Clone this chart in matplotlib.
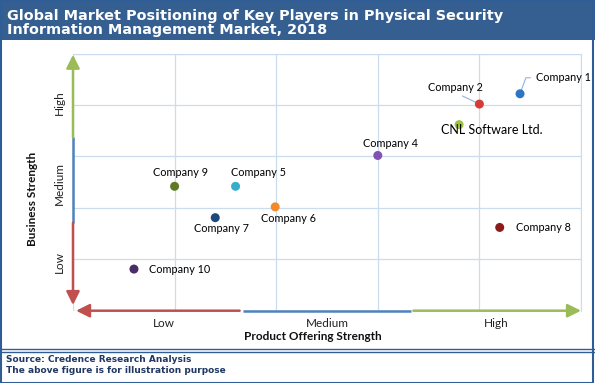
import matplotlib
matplotlib.use("Agg")
from matplotlib import pyplot as plt
from matplotlib.patches import Rectangle
from matplotlib.lines import Line2D

# donnees (echelle 0-5 sur chaque axe)
companies = ["Company 1", "Company 2", "CNL Software Ltd.", "Company 4", "Company 9",
             "Company 5", "Company 6", "Company 7", "Company 8", "Company 10"]
product_strength = [4.40, 4.00, 3.80, 3.00, 1.00, 1.60, 1.99, 1.40, 4.20, 0.60]
business_strength = [4.22, 4.02, 3.62, 3.02, 2.42, 2.42, 2.02, 1.81, 1.62, 0.81]
colors = ["#2E75C4", "#D63B36", "#9DC33F", "#7F52B3", "#5E7A24",
          "#36AECB", "#F28A2C", "#1F497D", "#8C1C1C", "#4A2D66"]
# decalage des etiquettes en pixels et alignement
label_dx = [16, -24, -18, 13, 6, 23, 13, 6, 16, 15]
label_dy = [16, 17, -5, 12, 14, 14, -12, -11, 0, 0]
label_ha = ["left", "center", "left", "center", "center", "center", "center", "center", "left", "left"]

levels = ["Low", "Medium", "High"]
x_level_pos = [0.89, 2.50, 4.17]
y_level_pos = [0.95, 2.47, 4.05]
arrow_colors = ["#C0504D", "#4F81BD", "#9BBB59"]

title = "Global Market Positioning of Key Players in Physical Security\nInformation Management Market, 2018"
source = "Source: Credence Research Analysis\nThe above figure is for illustration purpose"

W, H = 595, 383
fig = plt.figure(figsize=(W / 100, H / 100), dpi=100)
fig.patch.set_facecolor("white")

# cadre, bandeau du titre, separation du pied
fig.patches.append(Rectangle((0, 1 - 40 / H), 1, 40 / H, transform=fig.transFigure,
                             facecolor="#355F91", edgecolor="none", zorder=0))
fig.patches.append(Rectangle((1 / W, 0.5 / H), 1 - 3 / W, 1 - 1 / H, transform=fig.transFigure,
                             facecolor="none", edgecolor="#2F5E97", lw=1.5, zorder=5))
for yy in [348.5, 351.5]:
    fig.lines.append(Line2D([0, 1], [1 - yy / H, 1 - yy / H], transform=fig.transFigure,
                            color="#2F5E97", lw=1))

fig.text(7 / W, 1 - 23 / H, title, color="white", fontsize=10.4, fontweight="bold",
         family="DejaVu Sans", va="center", ha="left", linespacing=1.0)
fig.text(6 / W, 1 - 365 / H, source, color="#1F3864", fontsize=6.5, fontweight="bold",
         family="DejaVu Sans", va="center", ha="left", linespacing=1.25)

ax = fig.add_axes([73 / W, 1 - 310.7 / H, 508 / W, 257 / H])
ax.set_xlim(0, 5)
ax.set_ylim(0, 5)
ax.set_xticks(range(6))
ax.set_yticks(range(6))
ax.grid(True, color="#CCDCEF", lw=0.9)
ax.tick_params(length=0, labelleft=False, labelbottom=False)
for s in ax.spines.values():
    s.set_visible(False)
ax.spines["right"].set_visible(True)
ax.spines["right"].set_color("#CCDCEF")
ax.spines["top"].set_visible(True)
ax.spines["top"].set_color("#CCDCEF")
ax.set_axisbelow(True)

# fleches des axes
head = "-|>,head_length=0.8,head_width=0.4"
ax.annotate("", xy=(0.03, 0), xytext=(1.64, 0), annotation_clip=False,
            arrowprops=dict(arrowstyle=head, color=arrow_colors[0], lw=1.8, shrinkA=0, shrinkB=0))
ax.plot([1.67, 3.33], [0, 0], color=arrow_colors[1], lw=1.8, clip_on=False, solid_capstyle="butt")
ax.annotate("", xy=(5.0, 0), xytext=(3.35, 0), annotation_clip=False,
            arrowprops=dict(arrowstyle=head, color=arrow_colors[2], lw=1.8, shrinkA=0, shrinkB=0))
ax.annotate("", xy=(0, 0.11), xytext=(0, 1.71), annotation_clip=False,
            arrowprops=dict(arrowstyle=head, color=arrow_colors[0], lw=1.8, shrinkA=0, shrinkB=0))
ax.plot([0, 0], [1.71, 3.37], color=arrow_colors[1], lw=1.8, clip_on=False, solid_capstyle="butt")
ax.annotate("", xy=(0, 4.98), xytext=(0, 3.37), annotation_clip=False,
            arrowprops=dict(arrowstyle=head, color=arrow_colors[2], lw=1.8, shrinkA=0, shrinkB=0))

# niveaux
for lab, xp in zip(levels, x_level_pos):
    ax.text(xp, -0.048, lab, transform=ax.get_xaxis_transform(), ha="center", va="center",
            fontsize=8.5, family="Lato", color="#222222")
for lab, yp in zip(levels, y_level_pos):
    ax.text(-0.026, yp, lab, transform=ax.get_yaxis_transform(), ha="center", va="center",
            rotation=90, fontsize=8.5, family="Lato", color="#222222")

fig.text(313 / W, 1 - 337 / H, "Product Offering Strength", ha="center", va="center",
         fontsize=8.5, fontweight="bold", family="Lato", color="#111111")
fig.text(33 / W, 1 - 199 / H, "Business Strength", ha="center", va="center", rotation=90,
         fontsize=8.5, fontweight="bold", family="Lato", color="#111111")

# points
ax.scatter(product_strength, business_strength, s=42, c=colors, zorder=4, edgecolors="none")

for i, name in enumerate(companies):
    fs = 9 if name.startswith("CNL") else 7.8
    if name == "Company 1":
        ax.annotate(name, xy=(product_strength[i], business_strength[i]),
                    xytext=(label_dx[i], label_dy[i]), textcoords="offset pixels",
                    ha=label_ha[i], va="center", fontsize=fs, family="Lato",
                    arrowprops=dict(arrowstyle="-", color="#8DB3E2", lw=0.8, shrinkA=2, shrinkB=1,
                                    relpos=(0, 0.5), connectionstyle="angle,angleA=180,angleB=70,rad=0"))
    elif name == "Company 2":
        ax.annotate(name, xy=(product_strength[i], business_strength[i]),
                    xytext=(label_dx[i], label_dy[i]), textcoords="offset pixels",
                    ha=label_ha[i], va="center", fontsize=fs, family="Lato",
                    arrowprops=dict(arrowstyle="-", color="#8DB3E2", lw=0.8, shrinkA=1, shrinkB=1,
                                    relpos=(0.5, 0)))
    else:
        ax.annotate(name, xy=(product_strength[i], business_strength[i]),
                    xytext=(label_dx[i], label_dy[i]), textcoords="offset pixels",
                    ha=label_ha[i], va="center", fontsize=fs, family="Lato", zorder=5)

fig.savefig("out.png", dpi=100)
